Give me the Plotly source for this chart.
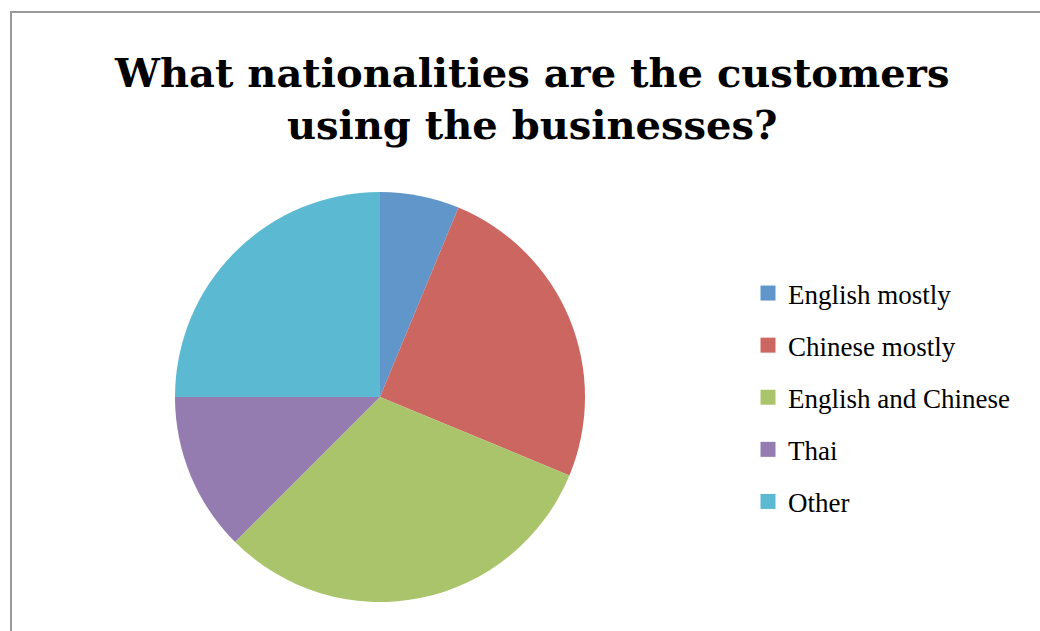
import plotly.graph_objects as go

# Survey answers (share of businesses, sixteenths)
categories = ["English mostly", "Chinese mostly", "English and Chinese", "Thai", "Other"]
counts = [1, 4, 5, 2, 4]
colors = ["#6096C9", "#CC6661", "#AAC46C", "#947BB0", "#5BB9D1"]
title_text = "What nationalities are the customers<br>using the businesses?"

W, H = 1040, 631
cx, cy, r = 380, 397, 205

fig = go.Figure()

fig.add_trace(go.Pie(
    labels=categories,
    values=counts,
    marker=dict(colors=colors, line=dict(width=0)),
    sort=False,
    direction="clockwise",
    rotation=0,
    textinfo="none",
    hoverinfo="label+percent",
    showlegend=False,
    domain=dict(x=[(cx - r) / W, (cx + r) / W], y=[(H - cy - r) / H, (H - cy + r) / H]),
))

# Legend entries, one group per category so rows can be spaced apart
for name, col in zip(categories, colors):
    fig.add_trace(go.Scatter(
        x=[None], y=[None], mode="markers", name=name,
        legendgroup=name,
        marker=dict(symbol="square", size=15, color=col),
        hoverinfo="skip",
    ))

fig.update_layout(
    width=W, height=H,
    margin=dict(l=0, r=0, t=0, b=0),
    paper_bgcolor="white",
    plot_bgcolor="white",
    xaxis=dict(visible=False, domain=[0.99, 1.0]),
    yaxis=dict(visible=False, domain=[0.99, 1.0]),
    annotations=[dict(
        text=title_text,
        xref="paper", yref="paper",
        x=531 / W, xanchor="center",
        y=1 - 47 / H, yanchor="top",
        showarrow=False,
        align="center",
        font=dict(family="DejaVu Serif", size=40, color="black", weight="bold"),
    )],
    legend=dict(
        x=748 / W, xanchor="left",
        y=1 - 269 / H, yanchor="top",
        font=dict(family="Liberation Serif", size=27, color="black"),
        tracegroupgap=14,
        bgcolor="rgba(0,0,0,0)",
    ),
    shapes=[dict(
        type="rect", xref="paper", yref="paper",
        x0=11 / W, x1=1.05, y0=-0.05, y1=1 - 12 / H,
        line=dict(color="#999999", width=2),
        fillcolor="rgba(0,0,0,0)",
        layer="below",
    )],
)

fig.write_html("out.html")
